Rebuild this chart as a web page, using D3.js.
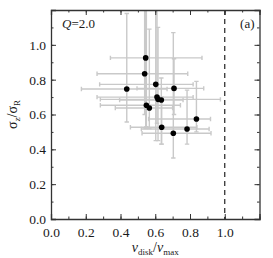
<!DOCTYPE html>
<html>
<head>
<meta charset="utf-8">
<script src="https://cdn.jsdelivr.net/npm/d3@7"></script>
<style>
  body { margin: 0; background: #fff; }
  svg text { font-family: "Liberation Serif", serif !important; fill: #1a1a1a; }
</style>
</head>
<body>
<script>
// data
var vdisk = [0.436, 0.545, 0.539, 0.603, 0.708, 0.610, 0.616, 0.635, 0.549, 0.566, 0.837, 0.637, 0.783, 0.704];
var sigRatio = [0.746, 0.925, 0.834, 0.773, 0.750, 0.700, 0.687, 0.683, 0.653, 0.637, 0.574, 0.527, 0.517, 0.492];
var xLow = [0.175, 0.342, 0.265, 0.280, 0.495, 0.265, 0.284, 0.395, 0.284, 0.370, 0.562, 0.457, 0.520, 0.524];
var xHigh = [0.668, 0.869, 0.787, 0.818, 0.879, 0.818, 0.975, 0.760, 0.745, 0.700, 0.918, 0.840, 0.910, 0.921];
var yLow = [0.557, 0.520, 0.600, 0.450, 0.600, 0.550, 0.450, 0.430, 0.530, 0.520, 0.500, 0.430, 0.430, 0.350];
var yHigh = [1.180, 1.300, 1.300, 1.300, 0.920, 1.300, 1.100, 0.810, 1.300, 1.090, 0.790, 0.700, 0.740, 1.070];
var xTicks = [0.0, 0.2, 0.4, 0.6, 0.8, 1.0];
var yTicks = [0.0, 0.2, 0.4, 0.6, 0.8, 1.0];
var qLabel = "Q=2.0";
var panelLabel = "(a)";

var points = vdisk.map(function(v, i) {
  return { x: v, y: sigRatio[i], x0: xLow[i], x1: xHigh[i], y0: yLow[i], y1: yHigh[i] };
});

var svgWidth = 273, svgHeight = 258;
var margin = { top: 10, right: 13.5, bottom: 39, left: 51 };
var width = svgWidth - margin.left - margin.right;
var height = svgHeight - margin.top - margin.bottom;

var svg = d3.select("body").append("svg")
  .attr("width", svgWidth)
  .attr("height", svgHeight);

var g = svg.append("g")
  .attr("transform", `translate(${margin.left}, ${margin.top})`);

var x = d3.scaleLinear().domain([0, 1.2]).range([0, width]);
var y = d3.scaleLinear().domain([0, 1.2]).range([height, 0]);

svg.append("defs").append("clipPath").attr("id", "clip")
  .append("rect").attr("width", width).attr("height", height);

// error bars
var bars = g.append("g").attr("clip-path", "url(#clip)")
  .attr("stroke", "#c9c9c9").attr("stroke-width", 1.4).attr("fill", "none");
var cap = 2.2;
points.forEach(function(d) {
  bars.append("line").attr("x1", x(d.x0)).attr("x2", x(d.x1)).attr("y1", y(d.y)).attr("y2", y(d.y));
  bars.append("line").attr("x1", x(d.x0)).attr("x2", x(d.x0)).attr("y1", y(d.y) - cap).attr("y2", y(d.y) + cap);
  bars.append("line").attr("x1", x(d.x1)).attr("x2", x(d.x1)).attr("y1", y(d.y) - cap).attr("y2", y(d.y) + cap);
  bars.append("line").attr("x1", x(d.x)).attr("x2", x(d.x)).attr("y1", y(d.y0)).attr("y2", y(d.y1));
  bars.append("line").attr("x1", x(d.x) - cap).attr("x2", x(d.x) + cap).attr("y1", y(d.y0)).attr("y2", y(d.y0));
  bars.append("line").attr("x1", x(d.x) - cap).attr("x2", x(d.x) + cap).attr("y1", y(d.y1)).attr("y2", y(d.y1));
});

// dashed line at v_disk/v_max = 1
g.append("line")
  .attr("x1", x(1)).attr("x2", x(1)).attr("y1", 0).attr("y2", height)
  .attr("stroke", "#222").attr("stroke-width", 1.2).attr("stroke-dasharray", "5,4");

// points
g.selectAll("circle").data(points).enter().append("circle")
  .attr("cx", d => x(d.x))
  .attr("cy", d => y(d.y))
  .attr("r", 2.8)
  .attr("fill", "#000");

// axes with inward ticks on all four sides
var minor = d3.range(0, 1.21, 0.1);
function ticks(axis, scale, t) {
  return axis(scale).tickValues(t.vals).tickSize(-t.size).tickFormat(t.fmt || "");
}
var frame = [
  { axis: d3.axisBottom, scale: x, at: `translate(0, ${height})`, labels: true },
  { axis: d3.axisTop, scale: x, at: "translate(0, 0)" },
  { axis: d3.axisLeft, scale: y, at: "translate(0, 0)", labels: true },
  { axis: d3.axisRight, scale: y, at: `translate(${width}, 0)` }
];
frame.forEach(function(f) {
  var major = f.scale === x ? xTicks : yTicks;
  g.append("g").attr("transform", f.at)
    .call(ticks(f.axis, f.scale, { vals: minor, size: 2.5 }))
    .call(s => s.select(".domain").remove());
  var ag = g.append("g").attr("transform", f.at)
    .call(ticks(f.axis, f.scale, { vals: major, size: 5, fmt: f.labels ? d3.format(".1f") : "" }));
  ag.attr("font-family", null);
  ag.selectAll("line").attr("stroke", "#333").attr("stroke-width", 1);
  ag.select(".domain").attr("stroke", "#333").attr("stroke-width", 1.3);
  ag.selectAll("text").attr("font-size", 13.5).attr("fill", "#222");
  if (f.axis === d3.axisBottom) ag.selectAll("text").attr("dy", "1.1em");
  if (f.axis === d3.axisLeft) ag.selectAll("text").attr("x", -5).attr("dy", "0.33em");
});
g.selectAll(".tick line").attr("stroke", "#333");

// labels inside the panel
g.append("text").attr("x", 11).attr("y", 18).attr("font-size", 13)
  .html(`<tspan font-style="italic">${qLabel[0]}</tspan>${qLabel.slice(1)}`);
g.append("text").attr("x", width - 5).attr("y", 18).attr("font-size", 13)
  .attr("text-anchor", "end").text(panelLabel);

// x axis title
var xt = svg.append("text")
  .attr("x", margin.left + width / 2).attr("y", 252)
  .attr("text-anchor", "middle").attr("font-size", 14);
xt.append("tspan").attr("font-style", "italic").text("v");
xt.append("tspan").attr("font-size", 9).attr("dy", 2.5).text("disk");
xt.append("tspan").attr("dy", -2.5).text("/");
xt.append("tspan").attr("font-style", "italic").text("v");
xt.append("tspan").attr("font-size", 9).attr("dy", 2.5).text("max");

// y axis title
var yt = svg.append("text")
  .attr("transform", `translate(17, ${margin.top + height / 2}) rotate(-90)`)
  .attr("text-anchor", "middle").attr("font-size", 14);
yt.append("tspan").text("σ");
yt.append("tspan").attr("font-size", 9).attr("dy", 2.5).text("z");
yt.append("tspan").attr("dy", -2.5).text("/σ");
yt.append("tspan").attr("font-size", 9).attr("dy", 2.5).text("R");
</script>
</body>
</html>
